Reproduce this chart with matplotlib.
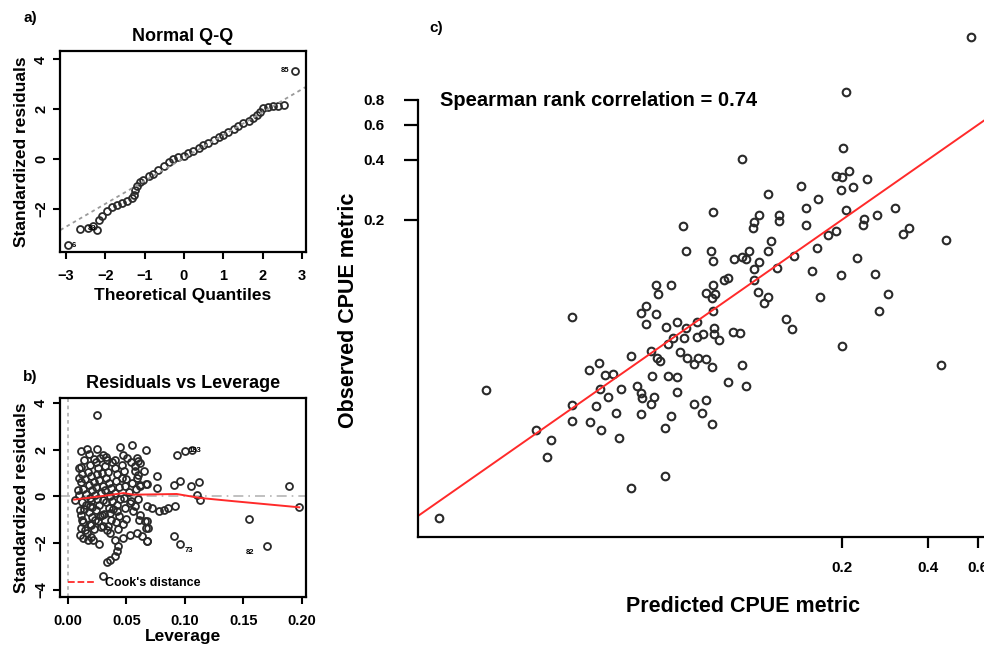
import numpy as np
import matplotlib
matplotlib.use('Agg')
import matplotlib.pyplot as plt
from matplotlib.ticker import NullLocator
from matplotlib.lines import Line2D

plt.rcParams['font.family'] = ['Liberation Sans', 'DejaVu Sans']
plt.rcParams['font.weight'] = 'bold'
plt.rcParams['axes.labelweight'] = 'bold'
plt.rcParams['axes.titleweight'] = 'bold'
plt.rcParams['axes.linewidth'] = 1.6

# ---- a) Normal Q-Q ----
qq_theoretical = [-2.95, -2.64, -2.45, -2.32, -2.21, -2.17, -2.09, -1.96, -1.83, -1.71,
                  -1.58, -1.45, -1.33, -1.28, -1.24, -1.20, -1.13, -1.03, -0.90, -0.78,
                  -0.65, -0.52, -0.39, -0.27, -0.14, -0.01, 0.11, 0.24, 0.37, 0.49,
                  0.62, 0.75, 0.88, 1.00, 1.13, 1.26, 1.38, 1.51, 1.64, 1.76,
                  1.85, 1.92, 2.02, 2.14, 2.27, 2.40, 2.54, 2.82]
qq_residuals = [-3.45, -2.80, -2.76, -2.69, -2.83, -2.45, -2.27, -2.07, -1.92, -1.83,
                -1.76, -1.68, -1.56, -1.43, -1.23, -1.07, -0.93, -0.83, -0.69, -0.59,
                -0.45, -0.29, -0.12, 0.00, 0.08, 0.13, 0.24, 0.35, 0.44, 0.57,
                0.67, 0.77, 0.88, 0.97, 1.11, 1.20, 1.33, 1.44, 1.55, 1.64,
                1.77, 1.91, 2.04, 2.11, 2.13, 2.15, 2.19, 3.55]
qqline_intercept = 0.05
qqline_slope = 0.92

# ---- b) Residuals vs Leverage ----
leverage = [
    # isolated and outer points
    0.0254, 0.0114, 0.0168, 0.0254, 0.0447, 0.0547, 0.0667, 0.0328,
    0.0932, 0.0997, 0.1060, 0.0761, 0.0960, 0.0909, 0.1054, 0.1117, 0.1103, 0.1125,
    0.0761, 0.0675, 0.1886, 0.1977, 0.1544, 0.1701, 0.0903, 0.0960,
    0.0063, 0.0085, 0.0100, 0.0114, 0.0105, 0.0120, 0.0114, 0.0105, 0.0134, 0.0168, 0.0197,
    0.0276, 0.0333, 0.0405, 0.0476, 0.0590, 0.0618, 0.0575, 0.0647, 0.0604, 0.0670, 0.0618,
    0.0191, 0.0276, 0.0305, 0.0333, 0.0362, 0.0405, 0.0433, 0.0419, 0.0405, 0.0362, 0.0333,
    0.0305, 0.0476, 0.0533, 0.0590, 0.0632, 0.0675, 0.0667, 0.0661, 0.0613, 0.0561, 0.0490,
    0.0419, 0.0268, 0.0219, 0.0177, 0.0718, 0.0775, 0.0818, 0.0860, 0.0917, 0.0675,
    0.0675, 0.0689, 0.0675,
    # dense cloud
    0.010, 0.012, 0.011, 0.013, 0.010, 0.012, 0.014, 0.011, 0.013, 0.015, 0.014, 0.015,
    0.016, 0.016, 0.018, 0.019, 0.017, 0.020, 0.018, 0.021, 0.019, 0.020, 0.018, 0.021,
    0.019, 0.022, 0.020, 0.022, 0.022, 0.021, 0.024, 0.026, 0.025, 0.027, 0.024, 0.028,
    0.025, 0.027, 0.024, 0.029, 0.026, 0.028, 0.030, 0.029, 0.030, 0.030, 0.023, 0.023,
    0.032, 0.034, 0.033, 0.035, 0.032, 0.036, 0.033, 0.035, 0.031, 0.037, 0.034, 0.038,
    0.037, 0.036, 0.038, 0.040, 0.042, 0.041, 0.044, 0.040, 0.045, 0.042, 0.044, 0.041,
    0.046, 0.046, 0.043, 0.039, 0.048, 0.050, 0.049, 0.052, 0.048, 0.053, 0.050, 0.054,
    0.051, 0.055, 0.054, 0.047, 0.057, 0.059, 0.058, 0.060, 0.057, 0.061, 0.062, 0.060]
residual = [
    3.47, 1.93, 2.03, 2.03, 2.11, 2.19, 2.00, 1.69,
    1.79, 1.96, 1.97, 0.89, 0.64, 0.50, 0.43, 0.61, 0.07, -0.14,
    0.36, 0.53, 0.43, -0.47, -0.96, -2.14, -1.71, -2.04,
    -0.14, 0.29, 0.79, 1.26, -0.57, -1.00, -1.36, -1.64, -1.79, -1.57, -1.21,
    1.64, 1.57, 1.57, 1.79, 1.64, 1.43, 1.29, 1.07, 0.93, 0.54, 0.43,
    -0.43, -0.86, -1.29, -1.43, -1.57, -1.86, -2.14, -2.36, -2.57, -2.71, -2.80,
    -3.40, -1.79, -1.64, -1.57, -1.71, -1.93, -1.36, -1.07, -0.79, -0.64, -0.50,
    -0.64, -2.03, -1.86, -1.86, -0.50, -0.64, -0.57, -0.50, -0.43, -0.43,
    -1.07, -1.36, -1.93,
    1.20, 0.95, 0.60, 0.30, 0.05, -0.25, -0.55, -0.80, -1.10, -1.45, 1.55, 0.75,
    0.10, -0.35, 1.80, 1.35, 1.05, 0.85, 0.50, 0.25, -0.05, -0.20, -0.65, -0.90,
    -1.20, -1.40, -1.75, 1.60, 0.60, -0.45, 1.45, 1.20, 0.95, 0.70, 0.40, 0.15,
    -0.10, -0.35, -0.60, -0.80, -1.05, -1.30, 1.75, 1.00, 0.45, -0.15, 0.05, -1.00,
    1.30, 1.05, 0.80, 0.55, 0.25, 0.00, -0.25, -0.50, -0.75, -1.00, -1.25, 1.45,
    0.35, -0.70, -0.20, 1.20, 0.95, 0.65, 0.40, 0.15, -0.10, -0.35, -0.85, -1.10,
    1.35, 0.80, -1.40, -0.55, 1.10, 0.75, 0.45, 0.20, -0.05, -0.30, -0.95, 1.45,
    1.65, 0.55, -0.20, -1.20, 1.10, 0.80, 0.30, -0.10, -0.40, -1.00, 0.50, 1.50]
smooth_leverage = [0.0054, 0.0276, 0.0476, 0.0560, 0.0930, 0.1130, 0.1420, 0.1977]
smooth_residual = [-0.14, 0.00, 0.14, 0.07, 0.10, -0.07, -0.21, -0.47]

# ---- c) observed vs predicted CPUE metric (natural log values) ----
log_predicted = [-2.42, -1.60, -1.66, -1.61, -1.55, -1.41, -1.94, -2.21, -1.62, -1.52,
                 -1.80, -1.90, -1.58, -2.65, -2.28, -2.12, -2.32, -2.33, -2.12, -1.90,
                 -1.33, -1.18, -1.43, -1.44, -1.07, -1.12, -1.72, -1.66, -2.89, -2.18,
                 -2.87, -2.67, -2.21, -2.36, -2.48, -2.42, -2.38, -2.65, -2.28, -2.00,
                 -1.81, -1.49, -2.32, -2.13, -2.53, -2.56, -2.32, -1.85, -1.62, -1.34,
                 -3.11, -2.99, -2.65, -3.09, -2.71, -2.63, -2.66, -2.29, -2.21, -2.24,
                 -1.79, -1.24, -3.19, -3.23, -3.11, -3.79, -2.65, -3.19, -3.03, -2.94,
                 -2.87, -2.78, -2.64, -2.06, -2.01, -1.31, -2.97, -2.88, -2.78, -2.73,
                 -2.64, -2.60, -2.49, -2.43, -1.61, -3.31, -3.15, -3.01, -3.10, -3.08,
                 -2.92, -2.86, -2.80, -2.77, -2.71, -2.66, -2.42, -3.57, -3.65, -3.52,
                 -3.46, -3.56, -3.39, -3.26, -3.14, -3.01, -2.94, -2.53, -2.38, -3.79,
                 -3.59, -3.50, -3.23, -3.22, -3.13, -3.15, -2.94, -2.71, -2.80, -2.74,
                 -2.99, -3.23, -3.43, -3.79, -3.64, -3.55, -3.41, -3.04, -2.66, -3.96,
                 -3.99, -3.04, -3.31, -0.57, -1.58, -0.81, -0.77, -4.86, -4.48, -4.08]
log_observed = [-0.91, -0.78, -1.10, -1.12, -1.05, -1.14, -1.22, -1.31, -1.27, -1.23,
                -1.37, -1.47, -1.50, -1.52, -1.55, -1.55, -1.63, -1.70, -1.62, -1.67,
                -1.56, -1.47, -1.60, -1.67, -1.71, -1.77, -1.79, -1.74, -1.68, -1.85,
                -1.97, -1.97, -1.97, -1.97, -2.06, -2.04, -2.06, -2.09, -2.10, -2.03,
                -1.94, -2.05, -2.18, -2.17, -2.28, -2.31, -2.30, -2.20, -2.25, -2.23,
                -2.36, -2.36, -2.36, -2.47, -2.46, -2.47, -2.51, -2.44, -2.50, -2.57,
                -2.50, -2.47, -2.60, -2.69, -2.70, -2.73, -2.66, -2.81, -2.85, -2.79,
                -2.86, -2.79, -2.86, -2.75, -2.87, -2.66, -2.98, -2.98, -2.96, -2.93,
                -2.93, -3.00, -2.90, -2.92, -3.07, -3.18, -3.12, -3.04, -3.20, -3.24,
                -3.14, -3.21, -3.28, -3.21, -3.22, -3.31, -3.29, -3.26, -3.35, -3.40,
                -3.39, -3.56, -3.56, -3.53, -3.41, -3.41, -3.42, -3.48, -3.53, -3.75,
                -3.76, -3.66, -3.61, -3.67, -3.66, -3.74, -3.60, -3.69, -3.74, -3.84,
                -3.88, -3.85, -3.84, -3.93, -3.95, -4.04, -4.13, -4.01, -3.97, -4.15,
                -4.35, -4.57, -4.71, 0.50, -0.13, -3.29, -1.84, -5.05, -3.57, -4.04]
spearman_rho = 0.74
cpue_ticks = [0.2, 0.4, 0.6, 0.8]

W, H = 984, 650
fig = plt.figure(figsize=(W / 100, H / 100), dpi=100)


def px_box(left, top, right, bottom):
    # figure-fraction rectangle from pixel edges
    return [left / W, 1 - bottom / H, (right - left) / W, (bottom - top) / H]


circle_style = dict(marker='o', linestyle='none', markersize=5, markerfacecolor='none',
                    markeredgecolor='#2a2a2a', markeredgewidth=1.3)


def style_diag_axes(ax):
    # R-like boxed axes with rotated y tick labels
    ax.tick_params(direction='out', length=5, width=1.5, labelsize=10.5)
    ax.tick_params(axis='x', pad=7)
    for lab in ax.get_yticklabels():
        lab.set_rotation(90)
        lab.set_va('center')


'''
a) normal Q-Q plot of standardized residuals
'''
ax_a = fig.add_axes(px_box(60, 51, 306, 252))
ax_a.plot(qq_theoretical, qq_residuals, **circle_style)
xs = np.array([-3.3, 3.3])
ax_a.plot(xs, qqline_intercept + qqline_slope * xs, color='#9a9a9a', linestyle=(0, (2, 2)), lw=1.3)
ax_a.set_xlim(-3.15, 3.1)
ax_a.set_ylim(-3.72, 4.34)
ax_a.set_xticks([-3, -2, -1, 0, 1, 2, 3])
ax_a.set_yticks([-2, 0, 2, 4])
style_diag_axes(ax_a)
ax_a.set_title('Normal Q-Q', fontsize=13, pad=7)
ax_a.set_xlabel('Theoretical Quantiles', fontsize=12.5, labelpad=4)
ax_a.set_ylabel('Standardized residuals', fontsize=12.5, labelpad=4)
ax_a.text(2.68, 3.55, '85', fontsize=5.5, ha='right', va='center')
ax_a.text(-2.85, -3.45, '6', fontsize=5.5, ha='left', va='center')
ax_a.text(-2.45, -2.78, '83', fontsize=5.5, ha='left', va='center')

'''
b) residuals vs leverage
'''
ax_b = fig.add_axes(px_box(60, 398, 306, 597))
ax_b.axhline(0, color='#b5b5b5', linestyle=(0, (6, 3, 1, 3)), lw=1.2)
ax_b.axvline(0, color='#b5b5b5', linestyle=(0, (2, 2)), lw=1.3)
ax_b.plot(leverage, residual, **circle_style)
ax_b.plot(smooth_leverage, smooth_residual, color='#ff2a2a', lw=1.4)
ax_b.set_xlim(-0.0066, 0.2034)
ax_b.set_ylim(-4.31, 4.21)
ax_b.set_xticks([0.0, 0.05, 0.10, 0.15, 0.20])
ax_b.set_xticklabels(['0.00', '0.05', '0.10', '0.15', '0.20'])
ax_b.set_yticks([-4, -2, 0, 2, 4])
style_diag_axes(ax_b)
ax_b.set_title('Residuals vs Leverage', fontsize=13, pad=7)
ax_b.set_xlabel('Leverage', fontsize=12.5, labelpad=1)
ax_b.set_ylabel('Standardized residuals', fontsize=12.5, labelpad=4)
ax_b.text(0.1035, 1.97, '183', fontsize=5.5, ha='left', va='center')
ax_b.text(0.1000, -2.30, '73', fontsize=5.5, ha='left', va='center')
ax_b.text(0.1520, -2.40, '82', fontsize=5.5, ha='left', va='center')
ax_b.legend(handles=[Line2D([], [], color='#ff2a2a', linestyle='--', lw=1.3)],
            labels=["Cook's distance"], loc='lower left', frameon=False,
            fontsize=9, handlelength=2.2, borderaxespad=0.2)

'''
c) observed vs predicted CPUE metric on log axes
'''
ax_c = fig.add_axes(px_box(418, 0, 990, 537))
ax_c.set_xscale('log')
ax_c.set_yscale('log')
ax_c.set_xlim(0.00654, 0.66)
ax_c.set_ylim(0.00513, 2.53)
ax_c.plot(np.exp(log_predicted), np.exp(log_observed),
          **dict(circle_style, markersize=5.5, markeredgewidth=1.5))
lims = np.array([0.004, 1.0])
ax_c.plot(lims, lims, color='#ff2a2a', lw=1.4)
for side in ['top', 'right']:
    ax_c.spines[side].set_visible(False)
ax_c.spines['left'].set_bounds(0.00513, 0.8)
ax_c.xaxis.set_minor_locator(NullLocator())
ax_c.yaxis.set_minor_locator(NullLocator())
ax_c.set_xticks(cpue_ticks[:3])
ax_c.set_xticklabels([str(t) for t in cpue_ticks[:3]])
ax_c.set_yticks(cpue_ticks)
ax_c.set_yticklabels([str(t) for t in cpue_ticks])
ax_c.tick_params(axis='x', direction='out', length=8, width=1.6, labelsize=11, pad=9)
ax_c.tick_params(axis='y', direction='out', length=10, width=1.6, labelsize=11, pad=14)
fig.text(743 / W, 1 - 607 / H, 'Predicted CPUE metric', fontsize=15.5, ha='center', va='center')
fig.text(349 / W, 1 - 310 / H, 'Observed CPUE metric', fontsize=15.5, ha='center', va='center', rotation=90)
fig.text(440 / W, 1 - 100 / H, 'Spearman rank correlation = %.2f' % spearman_rho,
         fontsize=14.5, ha='left', va='center')

fig.text(30 / W, 1 - 18 / H, 'a)', fontsize=11, ha='center', va='center')
fig.text(30 / W, 1 - 377 / H, 'b)', fontsize=11, ha='center', va='center')
fig.text(436 / W, 1 - 28 / H, 'c)', fontsize=11, ha='center', va='center')

fig.savefig('out.png', dpi=100)
